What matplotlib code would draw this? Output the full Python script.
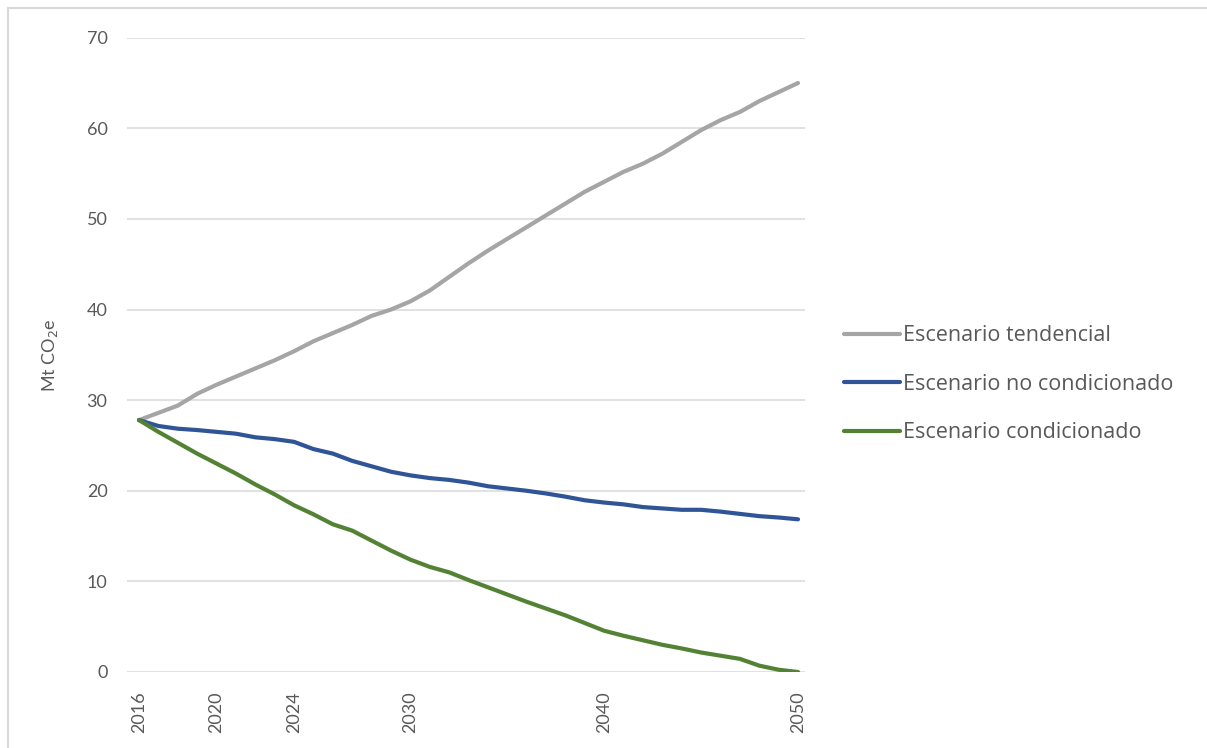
import matplotlib
matplotlib.use("Agg")
import matplotlib.pyplot as plt
from matplotlib.lines import Line2D

years = list(range(2016, 2051))

tendencial = [27.8, 28.6, 29.4, 30.7, 31.7, 32.6, 33.5, 34.4, 35.4, 36.5,
              37.4, 38.3, 39.3, 40.0, 40.9, 42.1, 43.6, 45.1, 46.5, 47.8,
              49.1, 50.4, 51.7, 53.0, 54.1, 55.2, 56.1, 57.2, 58.5, 59.8,
              60.9, 61.8, 63.0, 64.0, 65.0]

no_condicionado = [27.8, 27.15, 26.85, 26.7, 26.5, 26.3, 25.9, 25.7, 25.4, 24.6,
                   24.1, 23.3, 22.7, 22.1, 21.7, 21.4, 21.2, 20.9, 20.5, 20.25,
                   20.0, 19.7, 19.35, 18.95, 18.7, 18.5, 18.2, 18.05, 17.9, 17.9,
                   17.7, 17.45, 17.2, 17.05, 16.85]

condicionado = [27.8, 26.5, 25.3, 24.1, 23.0, 21.9, 20.7, 19.6, 18.4, 17.4,
                16.3, 15.6, 14.5, 13.4, 12.4, 11.6, 11.0, 10.15, 9.35, 8.55,
                7.75, 7.0, 6.25, 5.4, 4.55, 4.0, 3.5, 3.0, 2.6, 2.15,
                1.8, 1.45, 0.7, 0.25, 0.0]

series_names = ["Escenario tendencial", "Escenario no condicionado", "Escenario condicionado"]
series_colors = ["#A5A5A5", "#2F5597", "#548235"]
x_ticks = [2016, 2020, 2024, 2030, 2040, 2050]
y_ticks = [0, 10, 20, 30, 40, 50, 60, 70]

text_color = "#595959"
plt.rcParams["font.family"] = ["Lato", "DejaVu Sans"]

fig = plt.figure(figsize=(12.07, 7.48), dpi=100)
W, H = 1207, 748
ax = fig.add_axes([127 / W, 1 - 672 / H, (805 - 127) / W, (672 - 37.7) / H])

for vals, name, col in zip([tendencial, no_condicionado, condicionado], series_names, series_colors):
    ax.plot(years, vals, color=col, lw=3.0, label=name, solid_capstyle="round", zorder=3)

ax.set_xlim(2015.38, 2050.36)
ax.set_ylim(0, 70)
ax.set_yticks(y_ticks)
ax.set_xticks(x_ticks)
ax.set_xticklabels([str(x) for x in x_ticks], rotation=90, va="top")
ax.tick_params(axis="both", length=0, labelsize=13, colors=text_color)
ax.tick_params(axis="y", pad=14)
ax.tick_params(axis="x", pad=14)
ax.grid(axis="y", color="#D9D9D9", lw=1.1)
ax.set_axisbelow(True)
for s in ax.spines.values():
    s.set_visible(False)

ax.set_ylabel("Mt CO$_2$e", fontsize=13, color=text_color)
ax.yaxis.set_label_coords(-0.099, 0.5)

fig.legend(loc="upper left", bbox_to_anchor=(825 / W, 1 - 306 / H), frameon=False,
           prop={"family": ["Open Sans", "DejaVu Sans"], "size": 15.5},
           handlelength=2.6, handletextpad=0.12, labelspacing=1.28,
           labelcolor=text_color)

# outer frame (only top and left edges visible in the crop)
fig.add_artist(Line2D([7.5 / W, 1], [1 - 7.5 / H, 1 - 7.5 / H], color="#D9D9D9", lw=1.5,
                      transform=fig.transFigure))
fig.add_artist(Line2D([7.5 / W, 7.5 / W], [0, 1 - 7.5 / H], color="#D9D9D9", lw=1.5,
                      transform=fig.transFigure))

fig.savefig("out.png", dpi=100)
